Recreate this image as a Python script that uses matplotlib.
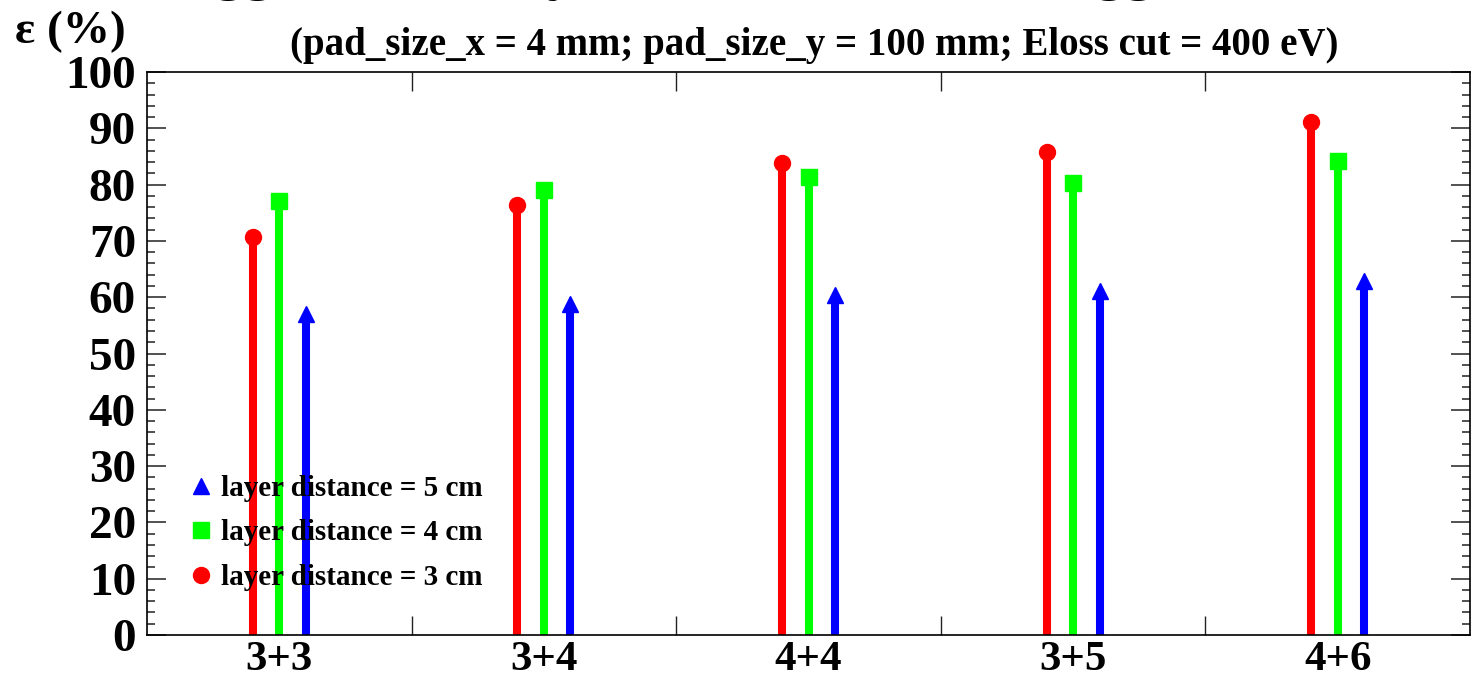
import matplotlib
matplotlib.use('Agg')
import matplotlib.pyplot as plt
from matplotlib.lines import Line2D
from matplotlib.ticker import MultipleLocator, FixedLocator
import numpy as np

plt.rcParams['font.family'] = ['Liberation Serif', 'DejaVu Serif']
plt.rcParams['font.weight'] = 'bold'

groups = ['3+3', '3+4', '4+4', '3+5', '4+6']
eff_3cm = [70.7, 76.4, 83.8, 85.8, 91.1]
eff_4cm = [77.1, 79.0, 81.3, 80.3, 84.2]
eff_5cm = [57.0, 58.8, 60.4, 61.1, 62.9]

fig = plt.figure(figsize=(14.75, 6.83), dpi=100)
ax = fig.add_axes([147/1475, 48/683, 1323/1475, 563/683])

x = np.arange(len(groups)) + 0.5
off = 0.1
series = [(eff_3cm, -off, 'red', 'o', 11.5),
          (eff_4cm, 0.0, '#00ff00', 's', 11.5),
          (eff_5cm, off, 'blue', '^', 12)]
for vals, dx, col, mk, ms in series:
    ax.vlines(x + dx, 0, vals, color=col, lw=5.8)
    ax.plot(x + dx, vals, ls='none', marker=mk, color=col, ms=ms, mec=col)

ax.set_xlim(0, 5)
ax.set_ylim(0, 100)

# y ticks
ax.yaxis.set_major_locator(MultipleLocator(10))
ax.yaxis.set_minor_locator(MultipleLocator(2))
ax.tick_params(axis='y', which='both', direction='in', left=True, right=True, colors='#333333', labelcolor='black')
ax.tick_params(axis='y', which='major', length=13.5, width=1.2, labelsize=34, pad=8)
ax.tick_params(axis='y', which='minor', length=6, width=1.2)

# x ticks: labels at group centers, ticks at group boundaries
ax.set_xticks(x)
ax.set_xticklabels(groups)
ax.xaxis.set_minor_locator(FixedLocator([1, 2, 3, 4]))
ax.tick_params(axis='x', which='major', length=0, labelsize=31, pad=4)
ax.tick_params(axis='x', which='minor', direction='in', length=14, width=1, top=True, bottom=True, colors='#222222')

for s in ax.spines.values():
    s.set_linewidth(1.2)

handles = [Line2D([], [], ls='none', marker='^', color='blue', ms=12),
           Line2D([], [], ls='none', marker='s', color='#00ff00', ms=11),
           Line2D([], [], ls='none', marker='o', color='red', ms=11.5)]
labels = ['layer distance = 5 cm', 'layer distance = 4 cm', 'layer distance = 3 cm']
ax.legend(handles, labels, loc='upper left', bbox_to_anchor=(0.024, 0.305), frameon=False,
          prop={'size': 21, 'weight': 'bold'}, handlelength=0.7, handletextpad=0.35,
          labelspacing=0.6, borderaxespad=0)

# title mostly cut off at the top of the figure
fig.text(137/1475, 1 + 12/683, 'Trigger efficiency for the combined trigger',
         fontsize=42.3, fontweight='bold', va='baseline', ha='left')
fig.text(814/1475, 1 - 45/683, '(pad_size_x = 4 mm; pad_size_y = 100 mm; Eloss cut = 400 eV)',
         fontsize=28, fontweight='bold', va='center', ha='center')
fig.text(15/1475, 1 - 32/683, 'ε (%)', fontsize=34, fontweight='bold', va='center', ha='left')

fig.savefig('out.png', dpi=100)
